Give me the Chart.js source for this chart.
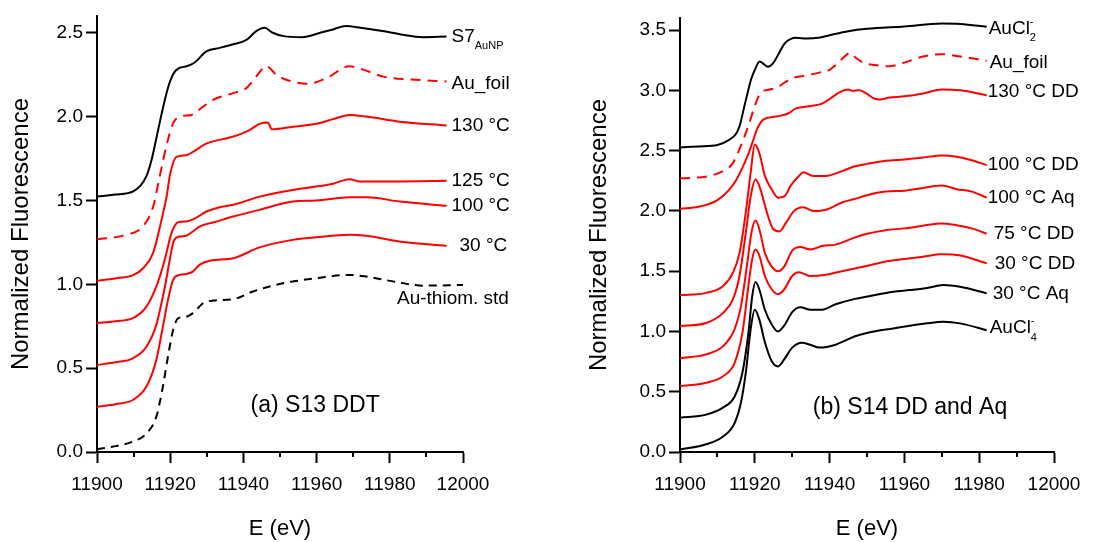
<!DOCTYPE html>
<html>
<head>
<meta charset="utf-8">
<script src="https://cdn.jsdelivr.net/npm/chart.js@4.4.0/dist/chart.umd.min.js"></script>
<style>
html, body { margin: 0; padding: 0; background: #fff; }
#wrap { position: relative; width: 1107px; height: 542px; }
#chartA { position: absolute; left: 0; top: 0; }
#chartB { position: absolute; left: 560px; top: 0; }
</style>
</head>
<body>
<div id="wrap">
  <canvas id="chartA" width="560" height="542"></canvas>
  <canvas id="chartB" width="547" height="542"></canvas>
</div>
<script>
/*---------------------------- data: panel (a) S13 DDT ----------------------------*/

var aE_S7 = [11900,11905,11910,11913.5,11915,11916.5,11918,11919.5,11921,11922.5,11924.5,11926.5,11930,11933.5,11937,11941,11943.5,11945.8,11948,11951,11956,11961,11964.5,11968,11972,11978,11983,11989,11995.5];
var aY_S7 = [1.523,1.535,1.555,1.645,1.75,1.90,2.05,2.18,2.26,2.29,2.30,2.32,2.39,2.41,2.43,2.46,2.51,2.53,2.50,2.48,2.474,2.50,2.52,2.54,2.53,2.51,2.49,2.474,2.478];

var aE_foil = [11900,11908,11912.5,11915.3,11917.1,11918.9,11920.8,11922.6,11925.8,11929,11931.7,11937.2,11940.8,11943.5,11946.3,11949,11951.7,11957.6,11962.7,11969,11972.7,11978,11987,11995.5];
var aY_foil = [1.269,1.295,1.345,1.46,1.64,1.82,1.96,2.00,2.01,2.06,2.10,2.14,2.17,2.24,2.30,2.25,2.22,2.196,2.23,2.30,2.28,2.24,2.22,2.21];

var aE_130 = [11900,11905,11910,11912.6,11915.3,11917,11918,11919,11920,11921.7,11924.4,11926.2,11930,11937,11941.7,11944.4,11946.7,11947.2,11947.7,11953.5,11960,11964.5,11969,11973.6,11982.7,11995.5];
var aY_130 = [1.022,1.035,1.056,1.096,1.185,1.325,1.42,1.52,1.66,1.76,1.77,1.79,1.84,1.88,1.92,1.957,1.965,1.945,1.925,1.94,1.957,1.985,2.01,2.00,1.97,1.947];

var aE_125 = [11900,11905,11909.8,11913.5,11916.2,11918,11919,11920,11921,11922.2,11924.5,11926.5,11929.9,11933.5,11937.2,11944.4,11953.5,11959.9,11964.5,11969,11971.8,11982.7,11995.5];
var aY_125 = [0.768,0.78,0.798,0.867,0.986,1.106,1.19,1.28,1.34,1.37,1.375,1.39,1.434,1.46,1.474,1.523,1.563,1.583,1.60,1.627,1.613,1.613,1.617];

var aE_100 = [11900,11905,11909.8,11913.5,11916.2,11918,11918.9,11920,11921,11922.6,11924.4,11926.2,11928,11932.6,11937.2,11944.4,11953.5,11959.9,11969,11973.6,11982.7,11995.5];
var aY_100 = [0.519,0.535,0.559,0.628,0.758,0.927,1.026,1.16,1.26,1.285,1.29,1.315,1.344,1.374,1.404,1.444,1.494,1.50,1.519,1.519,1.494,1.468];

var aE_30 = [11900,11905,11909.8,11913.5,11916.2,11918,11919.4,11920.8,11922.6,11924.4,11926.2,11928,11930.8,11937.2,11944.4,11953.5,11959.9,11969,11973.6,11982.7,11995.5];
var aY_30 = [0.27,0.285,0.31,0.39,0.549,0.748,0.907,1.026,1.056,1.062,1.076,1.116,1.14,1.155,1.22,1.265,1.28,1.295,1.289,1.255,1.229];

var aE_thiom = [11900,11905,11909.8,11913.5,11916.2,11918,11919.4,11920.8,11922.2,11924.4,11926.2,11929,11931.7,11937.2,11942.6,11950.8,11959.9,11969,11973.6,11982.7,11989,12000];
var aY_thiom = [0.016,0.035,0.062,0.11,0.21,0.39,0.57,0.728,0.798,0.807,0.828,0.887,0.903,0.911,0.957,1.006,1.036,1.056,1.046,1.01,0.992,0.996];

var aNames = ['S7_{AuNP}', 'Au_foil', '130 °C', '125 °C', '100 °C', '30 °C', 'Au-thiom. std'];

/*---------------------------- data: panel (b) S14 DD and Aq ----------------------------*/

var bE_cl2 = [11900,11905,11910,11913,11915,11916,11917,11918,11919,11920,11921.3,11922.3,11923.5,11925,11926.5,11928,11929.5,11931,11934,11937,11940,11945,11950,11960,11970,11975,11982];
var bY_cl2 = [2.526,2.535,2.546,2.587,2.64,2.71,2.84,2.97,3.09,3.17,3.24,3.22,3.195,3.23,3.31,3.39,3.425,3.436,3.43,3.436,3.457,3.49,3.51,3.53,3.554,3.55,3.527];

var bE_foil = [11900,11908,11912,11914,11916,11918,11920,11921,11922,11924,11926,11928,11930,11933,11937,11940,11942,11944,11945.5,11947,11949,11952,11956,11960,11965,11970,11975,11982];
var bY_foil = [2.27,2.29,2.34,2.39,2.52,2.68,2.87,2.95,2.99,3.007,3.024,3.065,3.10,3.12,3.145,3.17,3.22,3.28,3.31,3.27,3.23,3.21,3.20,3.23,3.28,3.30,3.28,3.245];

var bE_130 = [11900,11905,11910,11913,11915,11917,11918.5,11919.5,11920.5,11922,11924,11927,11929,11931,11935,11938,11941,11943,11945,11946,11948,11950,11952,11953.5,11956,11960,11965,11970,11975,11982];
var bY_130 = [2.018,2.034,2.09,2.17,2.255,2.38,2.49,2.58,2.67,2.75,2.776,2.79,2.81,2.85,2.87,2.89,2.95,2.99,3.007,2.996,3.00,2.97,2.93,2.924,2.94,2.95,2.974,3.007,3.00,2.96];

var bE_100dd = [11900,11907,11911.6,11914.2,11915.9,11917.6,11918.9,11920,11921.2,11922.7,11924.5,11926.2,11927.9,11929.6,11931.8,11933,11935.6,11939,11943.3,11946.8,11950,11955,11960,11965,11970,11974,11978,11982];
var bY_100dd = [1.30,1.32,1.38,1.49,1.65,1.99,2.32,2.55,2.48,2.29,2.18,2.11,2.12,2.21,2.29,2.32,2.29,2.29,2.33,2.37,2.39,2.416,2.427,2.443,2.46,2.45,2.42,2.38];

var bE_100aq = [11900,11907,11911.6,11914.2,11915.9,11917.6,11918.9,11920.2,11921.5,11923.2,11924.9,11926.6,11928.3,11930.5,11933,11935.6,11939,11943.3,11946.8,11950,11955,11960,11965,11970,11974,11978,11982];
var bY_100aq = [1.045,1.07,1.156,1.27,1.46,1.82,2.12,2.26,2.18,1.99,1.85,1.83,1.90,2.00,2.03,2.00,2.01,2.07,2.10,2.13,2.16,2.167,2.19,2.21,2.18,2.16,2.11];

var bE_75dd = [11900,11907,11911.6,11914.6,11916.3,11918,11919.1,11920.2,11921.2,11922.7,11924.5,11926.2,11927.9,11930,11932.2,11934.8,11938.2,11941.6,11946.8,11950,11955,11960,11965,11970,11974,11978,11982];
var bY_75dd = [0.778,0.81,0.88,1.02,1.21,1.57,1.82,1.92,1.85,1.65,1.54,1.50,1.54,1.67,1.70,1.68,1.71,1.72,1.78,1.81,1.84,1.855,1.877,1.896,1.88,1.855,1.81];

var bE_30dd = [11900,11907,11911.6,11914.6,11916.7,11918.3,11919.3,11920.2,11921.2,11922.7,11924.5,11926.2,11927.9,11930,11931.8,11934.8,11939,11943.3,11950.2,11955,11960,11965,11970,11975,11982];
var bY_30dd = [0.545,0.575,0.63,0.74,0.99,1.38,1.60,1.68,1.63,1.46,1.35,1.31,1.35,1.46,1.49,1.46,1.47,1.50,1.545,1.58,1.60,1.62,1.64,1.63,1.565];

var bE_30aq = [11900,11907,11911.6,11914.6,11916.7,11918.3,11919.3,11920.2,11921.2,11922.7,11924.5,11926.2,11927.9,11930,11932.2,11934.8,11938,11941.6,11946.8,11950.2,11957,11961.5,11966,11970.4,11974.9,11982];
var bY_30aq = [0.285,0.31,0.37,0.46,0.66,0.99,1.29,1.41,1.35,1.18,1.06,1.00,1.05,1.16,1.20,1.18,1.18,1.225,1.27,1.29,1.33,1.343,1.36,1.385,1.37,1.316];

var bE_cl4 = [11900,11907,11911.6,11914.6,11916.3,11917.6,11918.9,11920,11921.2,11922.7,11924.5,11926.2,11927.9,11930,11932.6,11934.8,11937.3,11941.6,11946.8,11950.2,11957,11966,11970.4,11974.9,11982];
var bY_cl4 = [0.02,0.064,0.13,0.24,0.41,0.66,1.02,1.18,1.10,0.91,0.755,0.71,0.77,0.866,0.907,0.89,0.866,0.89,0.96,0.99,1.025,1.067,1.08,1.067,1.01];

var bNames = ['AuCl_{2}^{-}', 'Au_foil', '130 °C DD', '100 °C DD', '100 °C Aq', '75 °C DD', '30 °C DD', '30 °C Aq', 'AuCl_{4}^{-}'];

/*---------------------------- axes ----------------------------*/

var xMajorStep = 20;
var xMinorTicks = [11910, 11930, 11950, 11970, 11990];
var yStep = 0.5;

var FONT = '"Liberation Sans", Arial, Helvetica, sans-serif';
var RED = '#ff0000';
var BLACK = '#000000';

Chart.defaults.font.family = FONT;
Chart.defaults.color = BLACK;

function pts(E, Y) {
  return E.map(function (e, i) { return { x: e, y: Y[i] }; });
}

function line(E, Y, color, dash) {
  return {
    data: pts(E, Y),
    borderColor: color,
    borderWidth: 2,
    borderDash: dash || [],
    pointRadius: 0,
    fill: false,
    cubicInterpolationMode: 'monotone'
  };
}

// text like 'AuCl_{2}^{-}' -> sub / superscripts stacked
function drawRich(ctx, str, x, y, size) {
  var bits = str.split(/(_\{[^}]*\}|\^\{[^}]*\})/).filter(function (b) { return b.length; });
  var scriptW = 0;
  bits.forEach(function (b) {
    if (b[0] === '_' || b[0] === '^') {
      var t = b.slice(2, -1);
      ctx.font = Math.round(size * 0.6) + 'px ' + FONT;
      var dy = b[0] === '_' ? size * 0.5 : -size * 0.38;
      ctx.fillText(t, x, y + dy);
      scriptW = Math.max(scriptW, ctx.measureText(t).width);
    } else {
      x += scriptW; scriptW = 0;
      ctx.font = size + 'px ' + FONT;
      ctx.fillText(b, x, y);
      x += ctx.measureText(b).width;
    }
  });
}

var seriesLabels = {
  id: 'seriesLabels',
  afterDraw: function (chart, args, opts) {
    var ctx = chart.ctx, xs = chart.scales.x, ys = chart.scales.y;
    ctx.save();
    ctx.fillStyle = BLACK;
    ctx.textAlign = 'left';
    ctx.textBaseline = 'middle';
    chart.data.datasets.forEach(function (ds, i) {
      var last = ds.data[ds.data.length - 1];
      var px = xs.getPixelForValue(last.x) + opts.dx[i];
      var py = ys.getPixelForValue(last.y) + opts.dy[i];
      drawRich(ctx, opts.names[i], px, py, 19);
    });
    // panel caption
    ctx.textAlign = 'center';
    ctx.font = '23px ' + FONT;
    ctx.fillText(opts.caption, xs.getPixelForValue(opts.capX), ys.getPixelForValue(opts.capY));
    // minor x ticks
    ctx.strokeStyle = BLACK;
    ctx.lineWidth = 2;
    var b = chart.chartArea.bottom;
    xMinorTicks.forEach(function (e) {
      var p = Math.round(xs.getPixelForValue(e));
      ctx.beginPath();
      ctx.moveTo(p, b);
      ctx.lineTo(p, b + 5);
      ctx.stroke();
    });
    ctx.restore();
  }
};

function makeOptions(yMax, yWidth, pad, labels) {
  return {
    responsive: false,
    animation: false,
    layout: { padding: pad },
    plugins: {
      legend: { display: false },
      tooltip: { enabled: false },
      seriesLabels: labels
    },
    scales: {
      x: {
        type: 'linear',
        min: 11900,
        max: 12000,
        afterFit: function (s) { s.height = 90; },
        ticks: {
          stepSize: xMajorStep,
          includeBounds: false,
          padding: 10,
          maxRotation: 0,
          font: { size: 19 },
          color: BLACK,
          callback: function (v) { return String(v); }
        },
        grid: { drawOnChartArea: false, drawTicks: true, tickLength: 11, tickWidth: 2, tickColor: BLACK },
        border: { display: true, color: BLACK, width: 2 },
        title: { display: true, text: 'E (eV)', font: { size: 22 }, color: BLACK, padding: 0 }
      },
      y: {
        type: 'linear',
        min: 0,
        max: yMax,
        afterFit: function (s) { s.width = yWidth; },
        ticks: {
          stepSize: yStep,
          includeBounds: false,
          padding: 3,
          font: { size: 19 },
          color: BLACK,
          callback: function (v) { return v.toFixed(1); }
        },
        grid: { drawOnChartArea: false, drawTicks: true, tickLength: 11, tickWidth: 2, tickColor: BLACK },
        border: { display: true, color: BLACK, width: 2 },
        title: { display: true, text: 'Normalized Fluorescence', font: { size: 24 }, color: BLACK, padding: 0 }
      }
    }
  };
}

/*----------------------------Panel (a)------------------------------------*/
new Chart('chartA', {
  type: 'line',
  data: {
    datasets: [
      line(aE_S7, aY_S7, BLACK),
      line(aE_foil, aY_foil, RED, [10, 7]),
      line(aE_130, aY_130, RED),
      line(aE_125, aY_125, RED),
      line(aE_100, aY_100, RED),
      line(aE_30, aY_30, RED),
      line(aE_thiom, aY_thiom, BLACK, [8, 6])
    ]
  },
  options: makeOptions(2.6, 90, { left: 7, right: 97, top: 16, bottom: 0 }, {
    names: aNames,
    dx: [5, 5, 5, 5, 5, 13, -66],
    dy: [0, 2, 0, 0, 0, 0, 14],
    caption: '(a) S13 DDT', capX: 11959.6, capY: 0.276
  }),
  plugins: [seriesLabels]
});

/*----------------------------Panel (b)------------------------------------*/
new Chart('chartB', {
  type: 'line',
  data: {
    datasets: [
      line(bE_cl2, bY_cl2, BLACK),
      line(bE_foil, bY_foil, RED, [10, 7]),
      line(bE_130, bY_130, RED),
      line(bE_100dd, bY_100dd, RED),
      line(bE_100aq, bY_100aq, RED),
      line(bE_75dd, bY_75dd, RED),
      line(bE_30dd, bY_30dd, RED),
      line(bE_30aq, bY_30aq, BLACK),
      line(bE_cl4, bY_cl4, BLACK)
    ]
  },
  options: makeOptions(3.6, 95, { left: 25, right: 53, top: 18, bottom: 0 }, {
    names: bNames,
    dx: [2, 3, 1, 1, 1, 7, 8, 6, 3],
    dy: [2, 2, -3, 0, 0, 0, 0, 0, -2],
    caption: '(b) S14 DD and Aq', capX: 11961.5, capY: 0.365
  }),
  plugins: [seriesLabels]
});
</script>
</body>
</html>
